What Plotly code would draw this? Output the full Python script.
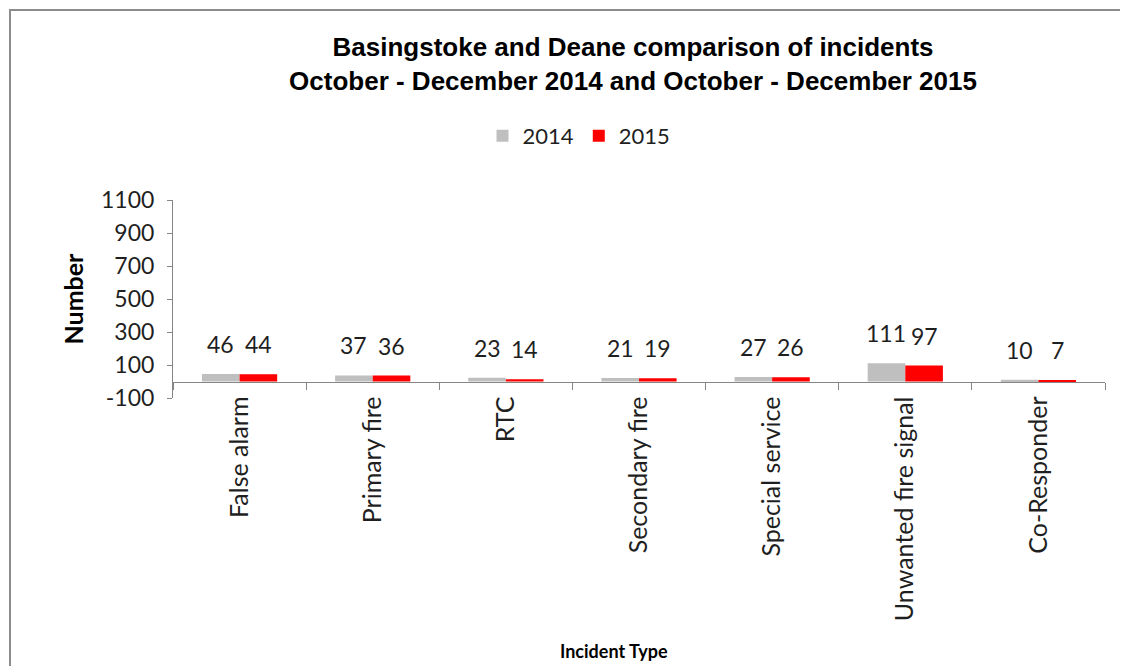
import plotly.graph_objects as go

# incident counts, Oct-Dec of each year
categories = [
    "False alarm",
    "Primary fire",
    "RTC",
    "Secondary fire",
    "Special service",
    "Unwanted fire signal",
    "Co-Responder",
]
counts_2014 = [46, 37, 23, 21, 27, 111, 10]
counts_2015 = [44, 36, 14, 19, 26, 97, 7]

y_ticks = [-100, 100, 300, 500, 700, 900, 1100]
y_min, y_max = -100, 1100

# the page body has an 8px margin, so the figure starts 8px in
OFF = 8
W, H = 1128, 666
M_L, M_R, M_T, M_B = 173 - OFF, 31, 200 - OFF, 276
plot_w = W - M_L - M_R
plot_h = H - M_T - M_B
BARGAP = 0.435


def px_to_paper(px_x, px_y):
    """screen pixel position -> paper coords of the plot area"""
    return (px_x - OFF - M_L) / plot_w, (H - M_B - (px_y - OFF)) / plot_h


FONT = "Lato"
AXIS_GREY = "#868686"
TEXT = "#1f1f1f"

fig = go.Figure()
fig.add_trace(go.Bar(
    x=categories, y=counts_2014, name="2014",
    marker=dict(color="#BFBFBF", line=dict(width=0)),
))
fig.add_trace(go.Bar(
    x=categories, y=counts_2015, name="2015",
    marker=dict(color="#FF0000", line=dict(width=0)),
))

# data labels sit well above the bars in the original, so use annotations
half_bar = plot_w / len(categories) * (1 - BARGAP) / 4
for cat, v14, v15 in zip(categories, counts_2014, counts_2015):
    for val, shift in ((v14, -half_bar), (v15, half_bar)):
        fig.add_annotation(
            x=cat, y=val, text=str(val), showarrow=False,
            xshift=shift, yshift=14, yanchor="bottom",
            font=dict(family=FONT, size=23, color=TEXT),
        )

fig.update_layout(
    width=W, height=H,
    margin=dict(l=M_L, r=M_R, t=M_T, b=M_B),
    paper_bgcolor="white", plot_bgcolor="white",
    barmode="group", bargap=BARGAP, bargroupgap=0,
    font=dict(family=FONT, color=TEXT),
    title=dict(
        text="<b>Basingstoke and Deane comparison of incidents<br>"
             "October - December 2014 and October - December 2015</b>",
        font=dict(family="Liberation Sans", size=26, color="black"),
        x=(633 - OFF) / W, xref="container", xanchor="center",
        y=1 - (56 - OFF) / H, yref="container", yanchor="middle",
    ),
    legend=dict(
        orientation="h",
        x=(579 - OFF) / W, xref="container", xanchor="center",
        y=1 - (136 - OFF) / H, yref="container", yanchor="middle",
        font=dict(family=FONT, size=22, color=TEXT),
        itemwidth=30,
    ),
)

fig.update_yaxes(
    range=[y_min, y_max],
    tickvals=y_ticks, ticktext=[str(v) for v in y_ticks],
    showgrid=False, zeroline=False,
    showline=True, linecolor=AXIS_GREY, linewidth=1,
    ticks="outside", ticklen=5, tickcolor=AXIS_GREY,
    ticklabelstandoff=8,
    tickfont=dict(family=FONT, size=23, color=TEXT),
    title=dict(text="<b>Number</b>", font=dict(family=FONT, size=25, color="black"),
               standoff=10),
)

# x axis sits on the zero line, like the Excel original
fig.update_xaxes(
    anchor="free", position=(0 - y_min) / (y_max - y_min),
    showgrid=False, showline=True, linecolor=AXIS_GREY, linewidth=1,
    ticks="outside", ticklen=7, tickcolor=AXIS_GREY, tickson="boundaries",
    tickangle=-90, ticklabelstandoff=4,
    tickfont=dict(family=FONT, size=25, color=TEXT),
)

tx, ty = px_to_paper(614, 651)
fig.add_annotation(
    text="<b>Incident Type</b>", showarrow=False,
    x=tx, xref="paper", xanchor="center",
    y=ty, yref="paper", yanchor="middle",
    font=dict(family="Liberation Sans Narrow, Lato", size=18, color="black"),
)

# outer chart frame (runs off the right and bottom of the picture)
fx0, fy1 = px_to_paper(10, 10)
fx1, fy0 = px_to_paper(W + 40, H + 40)
fig.add_shape(
    type="rect", xref="paper", yref="paper",
    x0=fx0, x1=fx1, y0=fy0, y1=fy1,
    line=dict(color="#8C8C8C", width=2), fillcolor="rgba(0,0,0,0)",
    layer="below",
)

fig.write_html("out.html")
